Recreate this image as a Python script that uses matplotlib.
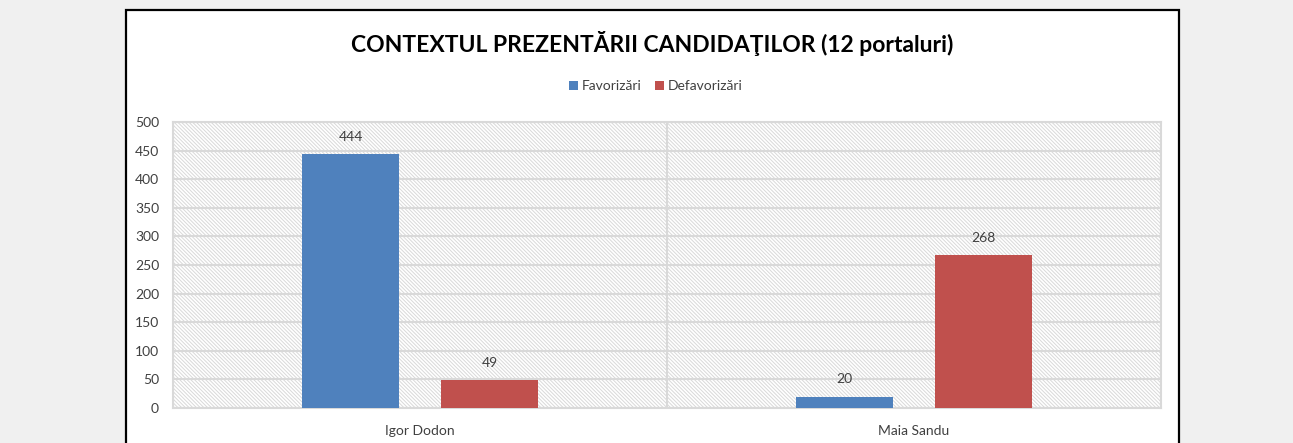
import matplotlib
matplotlib.use("Agg")
import matplotlib.pyplot as plt
from matplotlib.patches import Rectangle
import numpy as np

plt.rcParams['font.family'] = ['Lato', 'DejaVu Sans']
plt.rcParams['hatch.linewidth'] = 0.7

title = "CONTEXTUL PREZENTĂRII CANDIDAŢILOR (12 portaluri)"
categories = ["Igor Dodon", "Maia Sandu"]
series_names = ["Favorizări", "Defavorizări"]
favorizari = [444, 20]
defavorizari = [49, 268]
colors = ["#4f81bd", "#c0504d"]
yticks = list(range(0, 501, 50))

W, H = 1293, 443
fig = plt.figure(figsize=(W / 100, H / 100), dpi=100)
fig.patch.set_facecolor("#f0f0f0")

# white chart frame with black border
frame = Rectangle((126 / W, -0.05), (1179 - 126) / W, (H - 10) / H + 0.05,
                  transform=fig.transFigure, facecolor="white",
                  edgecolor="black", linewidth=1.6, zorder=-5)
fig.patches.append(frame)

ax = fig.add_axes([173 / W, (H - 408) / H, (1161 - 173) / W, (408 - 122) / H])
ax.set_zorder(2)
ax.patch.set_facecolor("white")

# hatched background
bg = Rectangle((0, 0), 1, 1, transform=ax.transAxes, facecolor="white",
               edgecolor="#d9d9d9", hatch="\\" * 9, linewidth=0, zorder=0)
ax.add_patch(bg)

x = np.arange(len(categories))
width = 0.196
off = 0.1405
for i, (vals, name) in enumerate(zip([favorizari, defavorizari], series_names)):
    pos = x + (-off if i == 0 else off)
    bars = ax.bar(pos, vals, width=width, color=colors[i], label=name, zorder=3)
    for b, v in zip(bars, vals):
        ax.annotate(str(v), (b.get_x() + b.get_width() / 2, v),
                    xytext=(0, 8), textcoords="offset points",
                    ha="center", va="bottom", fontsize=10, color="#404040")

ax.set_xlim(-0.5, len(categories) - 0.5)
ax.set_ylim(0, 500)
ax.set_yticks(yticks)
ax.set_yticklabels([str(t) for t in yticks], fontsize=10, color="#404040")
ax.set_xticks(x)
ax.set_xticklabels(categories, fontsize=10, color="#404040")
ax.tick_params(axis="both", length=0)
ax.tick_params(axis="y", pad=10)
ax.tick_params(axis="x", pad=12)

ax.yaxis.grid(True, color="#d9d9d9", linewidth=1.5, zorder=1)
ax.set_axisbelow(True)
for xv in np.arange(-0.5, len(categories), 1.0):
    ax.axvline(xv, color="#d9d9d9", linewidth=1.5, zorder=1)
for s in ax.spines.values():
    s.set_color("#d9d9d9")
    s.set_linewidth(1.5)

fig.text(652 / W, 1 - 43 / H, title, ha="center", va="center",
         fontsize=16.5, fontweight="bold", color="black")

leg = fig.legend(loc="center", bbox_to_anchor=(656 / W, 1 - 86 / H), ncol=2,
                 frameon=False, fontsize=10, handlelength=0.6, handleheight=0.6,
                 handletextpad=0.3, columnspacing=1.0)
for t in leg.get_texts():
    t.set_color("#404040")

fig.savefig("out.png", dpi=100, facecolor=fig.get_facecolor())
